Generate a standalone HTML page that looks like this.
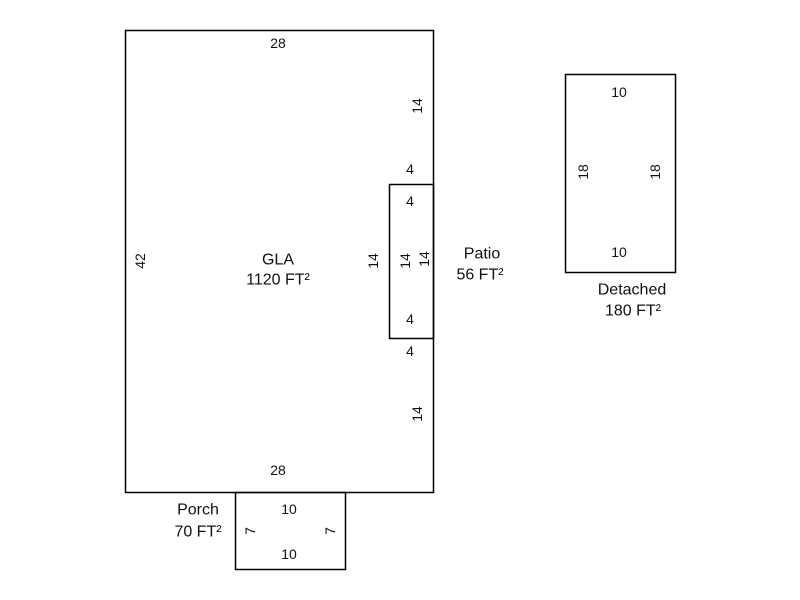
<!DOCTYPE html>
<html><head><meta charset="utf-8"><style>
html,body{margin:0;padding:0;background:#fff;}
svg{display:block}
text{font-family:"Liberation Sans",Arial,sans-serif;font-size:14px;fill:#111;}
text.big{font-size:16px;}
</style></head><body>
<svg width="800" height="600" xmlns="http://www.w3.org/2000/svg">
<g fill="none" stroke="#000" stroke-width="1.5">
<rect x="125.5" y="30.5" width="308" height="462"/>
<rect x="389.5" y="184.5" width="44" height="154"/>
<rect x="235.5" y="492.5" width="110" height="77"/>
<rect x="565.5" y="74.5" width="110" height="198"/>
</g>
<g text-anchor="middle" dominant-baseline="central">
<text x="278" y="43">28</text>
<text x="278" y="470">28</text>
<text x="410" y="169">4</text>
<text x="410" y="201">4</text>
<text x="410" y="319">4</text>
<text x="410" y="351">4</text>
<text class="big" x="278" y="260">GLA</text>
<text class="big" x="278" y="280">1120 FT²</text>
<text class="big" x="482" y="254">Patio</text>
<text class="big" x="480" y="275">56 FT²</text>
<text x="289" y="509">10</text>
<text x="289" y="554">10</text>
<text class="big" x="198" y="510">Porch</text>
<text class="big" x="198" y="532">70 FT²</text>
<text x="619" y="92">10</text>
<text x="619" y="252">10</text>
<text class="big" x="632" y="290">Detached</text>
<text class="big" x="633" y="311">180 FT²</text>
<text transform="translate(417,106) rotate(-90)">14</text>
<text transform="translate(417,414) rotate(-90)">14</text>
<text transform="translate(140,261) rotate(-90)">42</text>
<text transform="translate(373,261) rotate(-90)">14</text>
<text transform="translate(405,261) rotate(-90)">14</text>
<text transform="translate(424,259) rotate(-90)">14</text>
<text transform="translate(250,531) rotate(-90)">7</text>
<text transform="translate(330,531) rotate(-90)">7</text>
<text transform="translate(583,172) rotate(-90)">18</text>
<text transform="translate(655,172) rotate(-90)">18</text>
</g>
</svg>
</body></html>
